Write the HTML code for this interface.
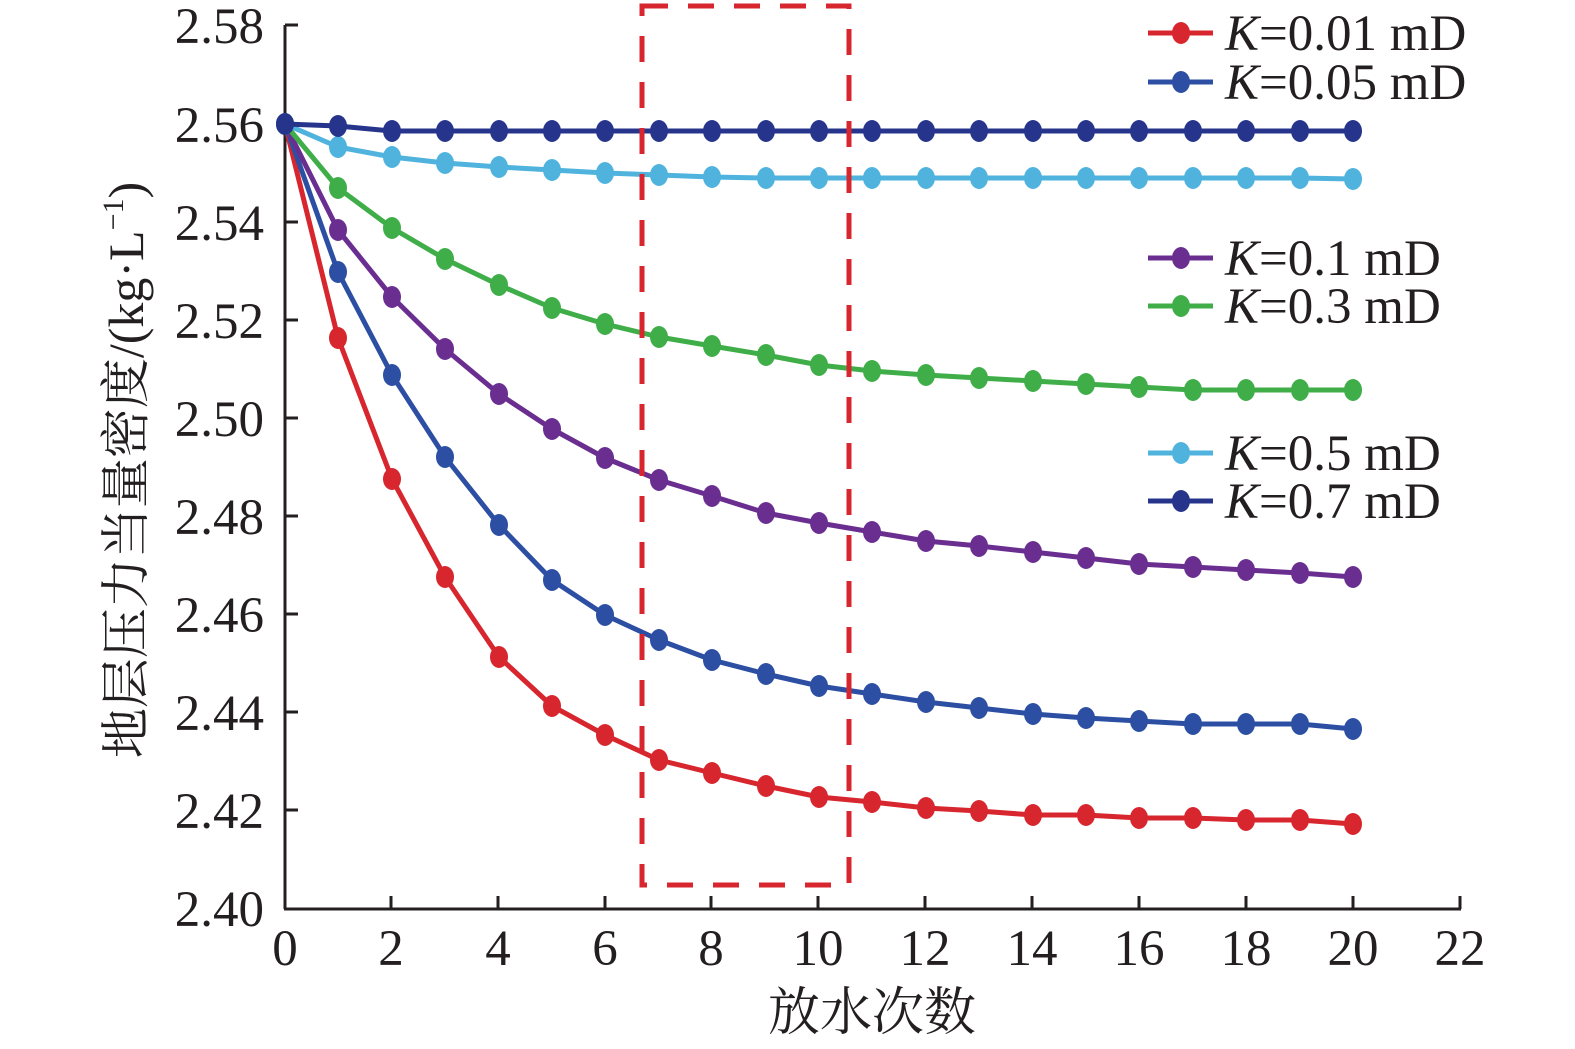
<!DOCTYPE html>
<html><head><meta charset="utf-8"><style>
html,body{margin:0;padding:0;background:#fff}
svg{display:block}
text{font-family:"Liberation Serif","Noto Serif CJK SC",serif;fill:#231f20}
</style></head><body>
<svg width="1575" height="1049" viewBox="0 0 1575 1049" xmlns="http://www.w3.org/2000/svg">
<defs>
<marker id="m1" markerUnits="userSpaceOnUse" markerWidth="24" markerHeight="26" refX="12" refY="13" overflow="visible"><ellipse cx="12" cy="13" rx="9" ry="11" fill="#d7262e"/></marker>
<marker id="m2" markerUnits="userSpaceOnUse" markerWidth="24" markerHeight="26" refX="12" refY="13" overflow="visible"><ellipse cx="12" cy="13" rx="9" ry="11" fill="#2c4fa3"/></marker>
<marker id="m3" markerUnits="userSpaceOnUse" markerWidth="24" markerHeight="26" refX="12" refY="13" overflow="visible"><ellipse cx="12" cy="13" rx="9" ry="11" fill="#6a2e91"/></marker>
<marker id="m4" markerUnits="userSpaceOnUse" markerWidth="24" markerHeight="26" refX="12" refY="13" overflow="visible"><ellipse cx="12" cy="13" rx="9" ry="11" fill="#3fae49"/></marker>
<marker id="m5" markerUnits="userSpaceOnUse" markerWidth="24" markerHeight="26" refX="12" refY="13" overflow="visible"><ellipse cx="12" cy="13" rx="9" ry="11" fill="#4fb3de"/></marker>
<marker id="m6" markerUnits="userSpaceOnUse" markerWidth="24" markerHeight="26" refX="12" refY="13" overflow="visible"><ellipse cx="12" cy="13" rx="9" ry="11" fill="#27348b"/></marker>
</defs>
<g stroke="#231f20" stroke-width="3" fill="none">
<line x1="285" y1="25" x2="285" y2="909"/>
<line x1="284" y1="909" x2="1461" y2="909"/>
<path d="M285 25h13M285 124h13M285 222h13M285 320h13M285 418h13M285 516h13M285 614h13M285 712h13M285 810h13"/>
<path d="M391 909v-13M498 909v-13M605 909v-13M711 909v-13M818 909v-13M925 909v-13M1032 909v-13M1139 909v-13M1246 909v-13M1353 909v-13M1460 909v-13"/>
</g>
<g font-size="51" text-anchor="end">
<text x="264" y="43">2.58</text><text x="264" y="142">2.56</text><text x="264" y="240">2.54</text><text x="264" y="338">2.52</text><text x="264" y="436">2.50</text><text x="264" y="534">2.48</text><text x="264" y="632">2.46</text><text x="264" y="730">2.44</text><text x="264" y="828">2.42</text><text x="264" y="926">2.40</text>
</g>
<g font-size="51" text-anchor="middle">
<text x="285" y="965">0</text><text x="391" y="965">2</text><text x="498" y="965">4</text><text x="605" y="965">6</text><text x="711" y="965">8</text><text x="818" y="965">10</text><text x="925" y="965">12</text><text x="1032" y="965">14</text><text x="1139" y="965">16</text><text x="1246" y="965">18</text><text x="1353" y="965">20</text><text x="1460" y="965">22</text>
<text x="872" y="1030" font-size="52">放水次数</text>
</g>
<text transform="translate(143,470) rotate(-90)" font-size="50" text-anchor="middle">地层压力当量密度/(kg·L<tspan font-size="30" dy="-20">−1</tspan><tspan dy="20">)</tspan></text>
<g fill="none" stroke-width="5" stroke-linejoin="round">
<polyline stroke="#d7262e" marker-start="url(#m1)" marker-mid="url(#m1)" marker-end="url(#m1)" points="285,124 338,338 392,479 445,577 499,657 552,706 605,735 659,760 712,773 766,786 819,797 872,802 926,808 979,811 1033,815 1086,815 1139,818 1193,818 1246,820 1300,820 1353,824"/>
<polyline stroke="#2c4fa3" marker-start="url(#m2)" marker-mid="url(#m2)" marker-end="url(#m2)" points="285,124 338,272 392,375 445,457 499,525 552,580 605,615 659,640 712,660 766,674 819,686 872,694 926,702 979,708 1033,714 1086,718 1139,721 1193,724 1246,724 1300,724 1353,729"/>
<polyline stroke="#6a2e91" marker-start="url(#m3)" marker-mid="url(#m3)" marker-end="url(#m3)" points="285,124 338,230 392,297 445,349 499,394 552,429 605,458 659,480 712,496 766,513 819,523 872,532 926,541 979,546 1033,552 1086,558 1139,564 1193,567 1246,570 1300,573 1353,577"/>
<polyline stroke="#3fae49" marker-start="url(#m4)" marker-mid="url(#m4)" marker-end="url(#m4)" points="285,124 338,188 392,228 445,259 499,285 552,308 605,324 659,337 712,346 766,355 819,365 872,371 926,375 979,378 1033,381 1086,384 1139,387 1193,390 1246,390 1300,390 1353,390"/>
<polyline stroke="#4fb3de" marker-start="url(#m5)" marker-mid="url(#m5)" marker-end="url(#m5)" points="285,124 338,147 392,157 445,163 499,167 552,170 605,173 659,175 712,177 766,178 819,178 872,178 926,178 979,178 1033,178 1086,178 1139,178 1193,178 1246,178 1300,178 1353,179"/>
<polyline stroke="#27348b" marker-start="url(#m6)" marker-mid="url(#m6)" marker-end="url(#m6)" points="285,124 338,126 392,131 445,131 499,131 552,131 605,131 659,131 712,131 766,131 819,131 872,131 926,131 979,131 1033,131 1086,131 1139,131 1193,131 1246,131 1300,131 1353,131"/>
<polyline stroke="#d7262e" marker-mid="url(#m1)" points="1148,33 1181,33 1213,33"/>
<polyline stroke="#2c4fa3" marker-mid="url(#m2)" points="1148,82 1181,82 1213,82"/>
<polyline stroke="#6a2e91" marker-mid="url(#m3)" points="1148,258 1181,258 1213,258"/>
<polyline stroke="#3fae49" marker-mid="url(#m4)" points="1148,306 1181,306 1213,306"/>
<polyline stroke="#4fb3de" marker-mid="url(#m5)" points="1148,453 1181,453 1213,453"/>
<polyline stroke="#27348b" marker-mid="url(#m6)" points="1148,501 1181,501 1213,501"/>
</g>
<rect x="642" y="6" width="207" height="879" fill="none" stroke="#d7262e" stroke-width="5" stroke-dasharray="26,20"/>
<g font-size="51">
<text x="1225" y="50"><tspan font-style="italic">K</tspan>=0.01 mD</text>
<text x="1225" y="99"><tspan font-style="italic">K</tspan>=0.05 mD</text>
<text x="1225" y="275"><tspan font-style="italic">K</tspan>=0.1 mD</text>
<text x="1225" y="323"><tspan font-style="italic">K</tspan>=0.3 mD</text>
<text x="1225" y="470"><tspan font-style="italic">K</tspan>=0.5 mD</text>
<text x="1225" y="518"><tspan font-style="italic">K</tspan>=0.7 mD</text>
</g>
</svg>
</body></html>
